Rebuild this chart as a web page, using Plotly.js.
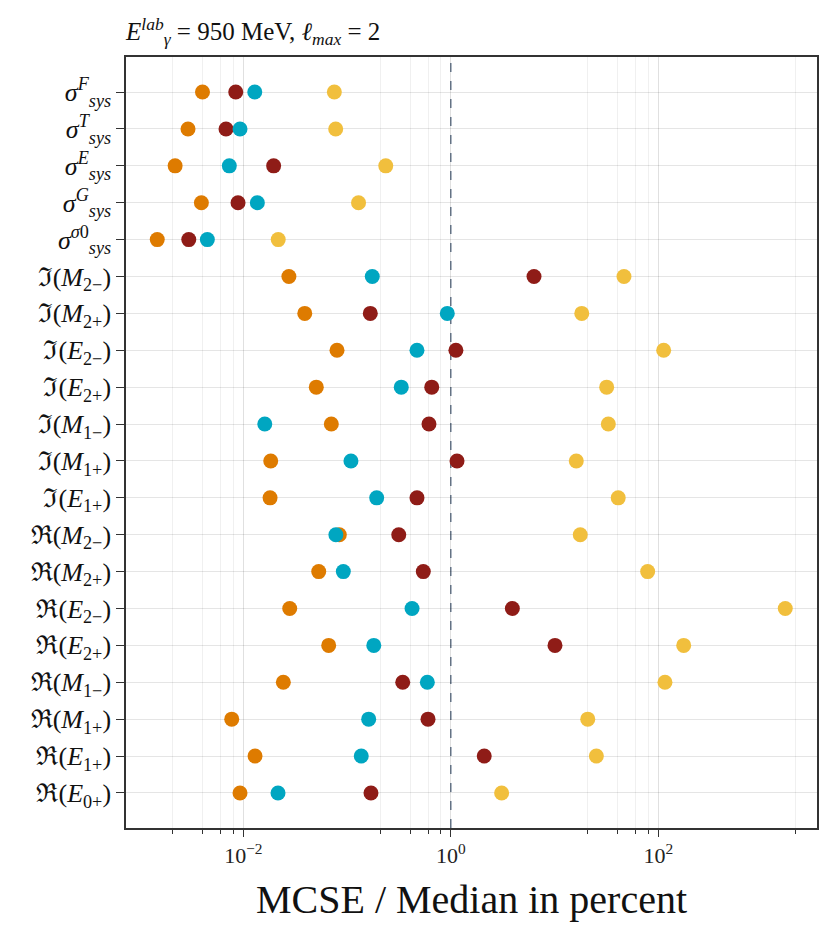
<!DOCTYPE html>
<html>
<head>
<meta charset="utf-8">
<script src="https://cdn.plot.ly/plotly-3.0.1.min.js"></script>
<style>
  html, body { margin: 0; padding: 0; background: #fff; }
  #chart { width: 834px; height: 938px; }
</style>
</head>
<body>
<div id="chart"></div>
<script>
// rows, top to bottom
const rowLabels = [
  "<i>σ</i><sup><i>F</i></sup><sub><i>sys</i></sub>",
  "<i>σ</i><sup><i>T</i></sup><sub><i>sys</i></sub>",
  "<i>σ</i><sup><i>E</i></sup><sub><i>sys</i></sub>",
  "<i>σ</i><sup><i>G</i></sup><sub><i>sys</i></sub>",
  "<i>σ</i><sup><i>σ</i>0</sup><sub><i>sys</i></sub>",
  "ℑ(<i>M</i><sub>2−</sub>)",
  "ℑ(<i>M</i><sub>2+</sub>)",
  "ℑ(<i>E</i><sub>2−</sub>)",
  "ℑ(<i>E</i><sub>2+</sub>)",
  "ℑ(<i>M</i><sub>1−</sub>)",
  "ℑ(<i>M</i><sub>1+</sub>)",
  "ℑ(<i>E</i><sub>1+</sub>)",
  "ℜ(<i>M</i><sub>2−</sub>)",
  "ℜ(<i>M</i><sub>2+</sub>)",
  "ℜ(<i>E</i><sub>2−</sub>)",
  "ℜ(<i>E</i><sub>2+</sub>)",
  "ℜ(<i>M</i><sub>1−</sub>)",
  "ℜ(<i>M</i><sub>1+</sub>)",
  "ℜ(<i>E</i><sub>1+</sub>)",
  "ℜ(<i>E</i><sub>0+</sub>)",
];

// MCSE / median in percent, one value per row
const orangeValues = [
  0.00404, 0.00293, 0.0022, 0.00394, 0.00148,
  0.0275, 0.0391, 0.080, 0.0505, 0.0705, 0.01837, 0.0181,
  0.0842, 0.0533, 0.028, 0.0665, 0.0243, 0.00773, 0.01297, 0.00929,
];
const darkRedValues = [
  0.00845, 0.00681, 0.0196, 0.00889, 0.00298,
  6.34, 0.1675, 1.12, 0.655, 0.616, 1.148, 0.472,
  0.315, 0.543, 3.92, 10.1, 0.344, 0.603, 2.10, 0.170,
];
const tealValues = [
  0.01289, 0.00929, 0.00733, 0.01365, 0.0045,
  0.175, 0.925, 0.472, 0.333, 0.0161, 0.109, 0.193,
  0.078, 0.092, 0.423, 0.181, 0.594, 0.1616, 0.137, 0.0216,
];
const yellowValues = [
  0.0754, 0.0777, 0.236, 0.129, 0.0217,
  46.7, 18.3, 112.7, 31.8, 33.0, 16.2, 41.1,
  17.7, 79.0, 1675, 175.8, 116, 20.9, 25.3, 3.09,
];

const majorTicks = [0.01, 1, 100];
const majorTickText = ["10<sup>−2</sup>", "10<sup>0</sup>", "10<sup>2</sup>"];
const referenceLevel = 1;

// minor ticks: 4 linear steps between every second decade
const minorTicks = [];
[-4, -2, 0, 2].forEach((p) => {
  const lo = Math.pow(10, p);
  const hi = Math.pow(10, p + 2);
  for (let k = 1; k < 5; k += 1) {
    minorTicks.push(lo + (k * (hi - lo)) / 5);
  }
});

const serif = "Liberation Serif, DejaVu Serif, serif";

const series = [
  { name: "orange", values: orangeValues, color: "#de7b00" },
  { name: "dark red", values: darkRedValues, color: "#8f1c17" },
  { name: "teal", values: tealValues, color: "#00a6c1" },
  { name: "yellow", values: yellowValues, color: "#f1bf3d" },
];

const data = series.map((s) => ({
  type: "scatter",
  mode: "markers",
  name: s.name,
  x: s.values,
  y: rowLabels,
  marker: { size: 15, color: s.color, line: { width: 0 } },
  cliponaxis: false,
}));

const layout = {
  width: 834,
  height: 938,
  paper_bgcolor: "#fff",
  plot_bgcolor: "#fff",
  showlegend: false,
  margin: { l: 126, r: 17, t: 57, b: 110 },
  font: { family: serif, color: "#111" },
  title: {
    text: "<i>E</i><sup><i>lab</i></sup><sub><i>γ</i></sub> = 950 MeV, <i>ℓ</i><sub><i>max</i></sub> = 2",
    x: 0,
    xref: "paper",
    xanchor: "left",
    y: 0.976,
    yanchor: "top",
    font: { family: serif, size: 25, color: "#111" },
  },
  xaxis: {
    type: "log",
    range: [-3.131, 3.53],
    tickmode: "array",
    tickvals: majorTicks,
    ticktext: majorTickText,
    ticks: "outside",
    ticklen: 7,
    tickwidth: 1,
    tickcolor: "#333",
    tickfont: { family: serif, size: 22, color: "#222" },
    showgrid: true,
    gridcolor: "rgba(0,0,0,0.12)",
    gridwidth: 1,
    minor: {
      tickmode: "array",
      tickvals: minorTicks,
      ticks: "outside",
      ticklen: 4,
      tickcolor: "#333",
      showgrid: true,
      gridcolor: "rgba(0,0,0,0.06)",
      gridwidth: 1,
    },
    showline: true,
    linecolor: "#333",
    linewidth: 1.5,
    mirror: true,
    zeroline: false,
    title: {
      text: "MCSE / Median in percent",
      font: { family: serif, size: 40, color: "#111" },
      standoff: 18,
    },
  },
  yaxis: {
    type: "category",
    categoryorder: "array",
    categoryarray: rowLabels,
    range: [19.95, -0.95],
    ticks: "outside",
    ticklen: 8,
    tickwidth: 1,
    tickcolor: "#333",
    tickfont: { family: serif, size: 26, color: "#111" },
    showgrid: true,
    gridcolor: "rgba(0,0,0,0.1)",
    gridwidth: 1,
    showline: true,
    linecolor: "#333",
    linewidth: 1.5,
    mirror: true,
    zeroline: false,
  },
  shapes: [
    {
      type: "line",
      xref: "x",
      yref: "paper",
      x0: referenceLevel,
      x1: referenceLevel,
      y0: 0,
      y1: 1,
      layer: "below",
      line: { color: "#6c7d92", width: 1.5, dash: "dash" },
    },
  ],
};

Plotly.newPlot("chart", data, layout, { displayModeBar: false, responsive: false });
</script>
</body>
</html>
